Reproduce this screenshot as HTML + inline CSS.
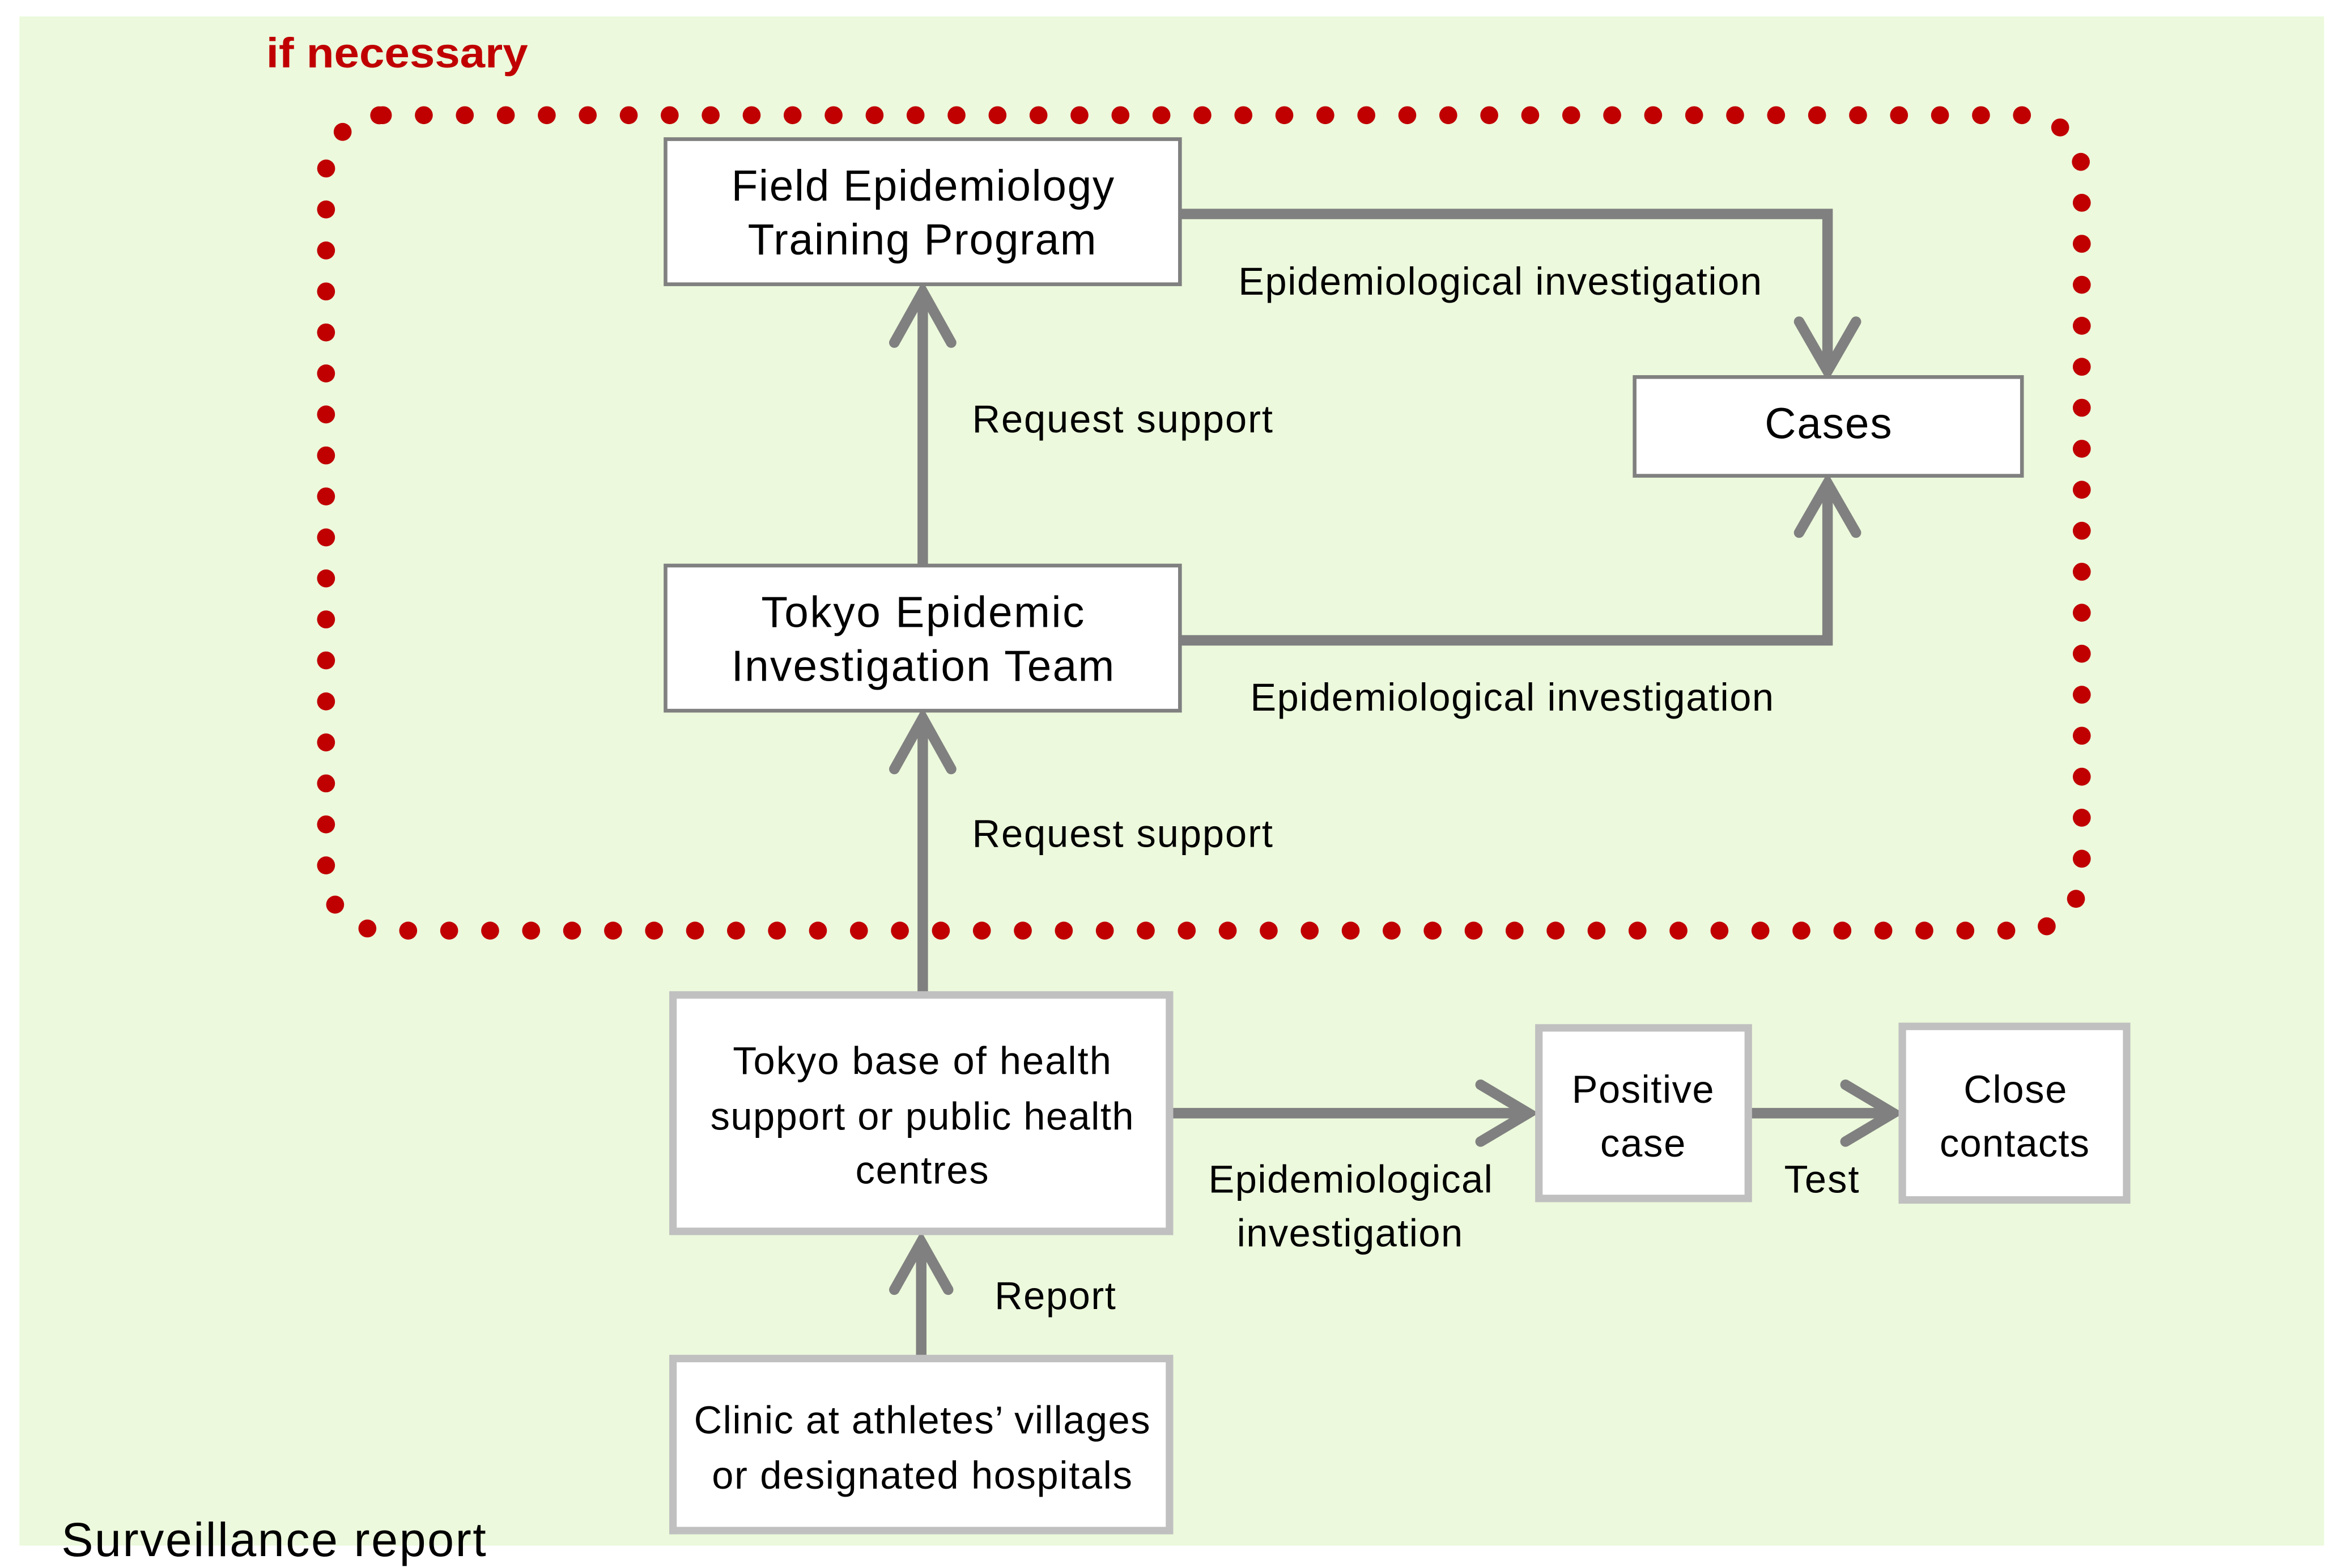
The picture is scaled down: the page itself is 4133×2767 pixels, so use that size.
<!DOCTYPE html>
<html><head><meta charset="utf-8"><style>
html,body{margin:0;padding:0;background:#fff;}
svg{display:block;}
text{font-family:"Liberation Sans",Arial,sans-serif;}
</style></head><body>
<svg width="4133" height="2767" viewBox="0 0 1566 1048" preserveAspectRatio="none" xmlns="http://www.w3.org/2000/svg">
<rect x="0" y="0" width="1566" height="1048" fill="#fff"/>
<rect x="13" y="11" width="1541" height="1022" fill="#ecf9dc"/>
<text x="178" y="45" font-size="28" font-weight="bold" fill="#c00000" textLength="175" lengthAdjust="spacingAndGlyphs">if necessary</text>
<rect x="218" y="77" width="1174" height="545" rx="38" ry="38" fill="none" stroke="#c00000" stroke-width="12" stroke-linecap="round" stroke-dasharray="0 27.4"/>

<g fill="none" stroke="#808080" stroke-width="7">
<polyline points="789,143 1222,143 1222,246"/>
<polyline points="1203,215 1222,248 1241,215" stroke-linecap="round"/>
<polyline points="789,428 1222,428 1222,325"/>
<polyline points="1203,356 1222,323 1241,356" stroke-linecap="round"/>
<line x1="617" y1="378" x2="617" y2="196"/>
<polyline points="598,229 617,195 636,229" stroke-linecap="round"/>
<line x1="617" y1="663" x2="617" y2="481"/>
<polyline points="598,514 617,480 636,514" stroke-linecap="round"/>
<line x1="782" y1="744" x2="1020" y2="744"/>
<polyline points="990,725 1022,744 990,763" stroke-linecap="round"/>
<line x1="1169" y1="744" x2="1263" y2="744"/>
<polyline points="1234,725 1266,744 1234,763" stroke-linecap="round"/>
<line x1="616" y1="907" x2="616" y2="830"/>
<polyline points="598,862 616,830 634,862" stroke-linecap="round"/>
</g>

<g fill="#fff" stroke="#808080" stroke-width="2.5">
<rect x="445" y="93" width="344" height="97"/>
<rect x="1093" y="252" width="259" height="66"/>
<rect x="445" y="378" width="344" height="97"/>
</g>
<g fill="#fff" stroke="#c0c0c0" stroke-width="5">
<rect x="450" y="665" width="332" height="158"/>
<rect x="1029" y="687" width="140" height="114"/>
<rect x="1272" y="686" width="150" height="116"/>
<rect x="450" y="908" width="332" height="115"/>
</g>

<g font-size="29" fill="#000" lengthAdjust="spacingAndGlyphs">
<text x="489" y="134" textLength="256">Field Epidemiology</text>
<text x="500" y="170" textLength="233">Training Program</text>
<text x="1180" y="293" textLength="85">Cases</text>
<text x="509" y="419" textLength="216">Tokyo Epidemic</text>
<text x="489" y="455" textLength="256">Investigation Team</text>
</g>
<g font-size="26" fill="#000">
<text x="490" y="718" textLength="253">Tokyo base of health</text>
<text x="475" y="755" textLength="283">support or public health</text>
<text x="572" y="791" textLength="89">centres</text>
<text x="1051" y="737" textLength="95">Positive</text>
<text x="1070" y="773" textLength="57">case</text>
<text x="1313" y="737" textLength="69">Close</text>
<text x="1297" y="773" textLength="100">contacts</text>
<text x="464" y="958" textLength="305">Clinic at athletes’ villages</text>
<text x="476" y="995" textLength="281">or designated hospitals</text>
<text x="808" y="797" textLength="190">Epidemiological</text>
<text x="827" y="833" textLength="151">investigation</text>
<text x="1193" y="797" textLength="50">Test</text>
<text x="828" y="197" textLength="350">Epidemiological investigation</text>
<text x="836" y="475" textLength="350">Epidemiological investigation</text>
<text x="650" y="289" textLength="201">Request support</text>
<text x="650" y="566" textLength="201">Request support</text>
<text x="665" y="875" textLength="81">Report</text>
</g>
<text x="41" y="1040" font-size="32" fill="#000" textLength="284">Surveillance report</text>
</svg>
</body></html>
